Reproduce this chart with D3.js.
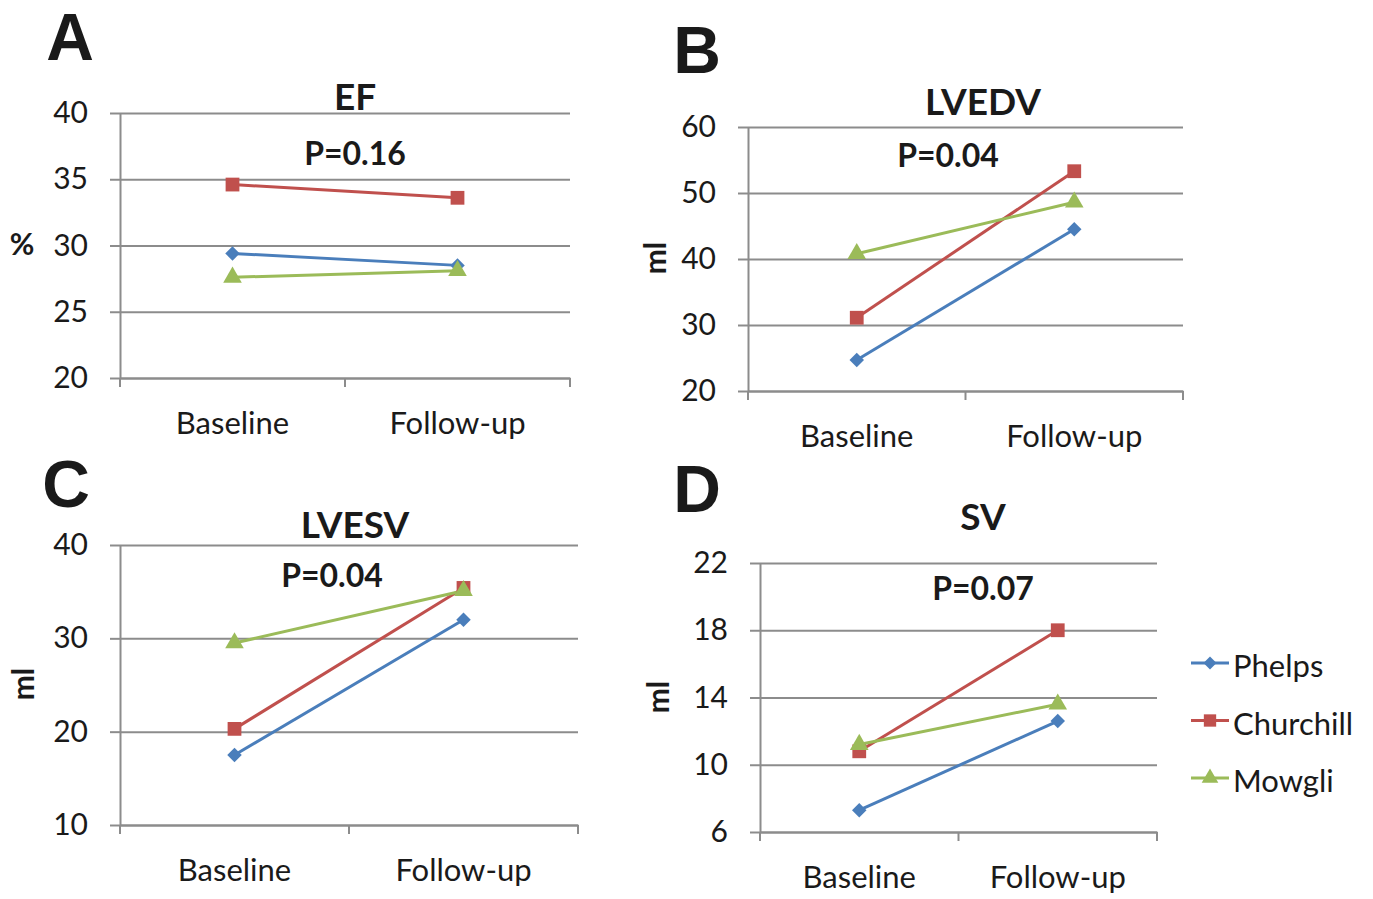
<!DOCTYPE html>
<html>
<head>
<meta charset="utf-8">
<script src="https://cdn.jsdelivr.net/npm/d3@7"></script>
<style>
  body { margin: 0; background: #fff; }
  text { font-family: Lato, "Open Sans", sans-serif; fill: #1a1a1a; }
</style>
</head>
<body>
<div class="chart"></div>
<script>
const categories = ["Baseline", "Follow-up"];
const subjects = ["Phelps", "Churchill", "Mowgli"];

// values per subject: [baseline, follow-up]
const efValues = [[29.4, 28.5], [34.6, 33.6], [27.6, 28.1]];
const lvedvValues = [[24.7, 44.5], [31.1, 53.3], [40.8, 48.6]];
const lvesvValues = [[17.5, 32.0], [20.3, 35.4], [29.5, 35.1]];
const svValues = [[7.3, 12.6], [10.8, 18.0], [11.2, 13.6]];

const efTicks = [20, 25, 30, 35, 40];
const lvedvTicks = [20, 30, 40, 50, 60];
const lvesvTicks = [10, 20, 30, 40];
const svTicks = [6, 10, 14, 18, 22];

const titles = ["EF", "LVEDV", "LVESV", "SV"];
const pLabels = ["P=0.16", "P=0.04", "P=0.04", "P=0.07"];
const letters = ["A", "B", "C", "D"];
const units = ["%", "ml", "ml", "ml"];

const colors = ["#4a7ebb", "#c0504d", "#9bbb59"];
const shapes = [d3.symbolSquare, d3.symbolSquare, d3.symbolTriangle];
const shapeSize = [105, 190, 150];
const shapeRot = [45, 0, 0];

let svg = d3.select(".chart").append("svg")
  .attr("width", 1373)
  .attr("height", 899);

// layout of each panel (pixel boxes)
const panels = [
  { values: efValues, ticks: efTicks, x0: 120, x1: 570, top: 113, bot: 378,
    title: [355, 110], p: [355, 165], letter: [70, 60], unit: [22, 255], rotate: false },
  { values: lvedvValues, ticks: lvedvTicks, x0: 748, x1: 1183, top: 127, bot: 391,
    title: [983, 115], p: [948, 167], letter: [697, 73], unit: [666, 258], rotate: true },
  { values: lvesvValues, ticks: lvesvTicks, x0: 120, x1: 578, top: 545, bot: 825,
    title: [355, 538], p: [332, 587], letter: [66, 507], unit: [34, 684], rotate: true },
  { values: svValues, ticks: svTicks, x0: 760, x1: 1157, top: 563, bot: 832,
    title: [983, 530], p: [983, 600], letter: [697, 512], unit: [669, 697], rotate: true }
];

panels.forEach((p, i) => {
  let g = svg.append("g");

  let x = d3.scaleBand().domain(categories).range([p.x0, p.x1]);
  let y = d3.scaleLinear().domain(d3.extent(p.ticks)).range([p.bot, p.top]);

  // gridlines
  g.append("g")
    .attr("transform", `translate(${p.x0},0)`)
    .call(d3.axisLeft(y).tickValues(p.ticks).tickSize(-(p.x1 - p.x0)).tickFormat(""))
    .call(a => a.select(".domain").remove())
    .call(a => a.selectAll("line").attr("stroke", "#8c8c8c").attr("stroke-width", 2));

  // y axis with outward ticks
  g.append("g")
    .attr("transform", `translate(${p.x0},0)`)
    .call(d3.axisLeft(y).tickValues(p.ticks).tickSize(10).tickSizeOuter(0).tickPadding(22))
    .call(a => a.select(".domain").attr("stroke", "#8c8c8c").attr("stroke-width", 2))
    .call(a => a.selectAll("line").attr("stroke", "#8c8c8c").attr("stroke-width", 2))
    .call(a => a.selectAll("text").style("font-size", "30px").attr("fill", "#1a1a1a"));

  // x axis
  g.append("g")
    .attr("transform", `translate(0,${p.bot})`)
    .call(d3.axisBottom(x).tickSize(0).tickPadding(34).tickSizeOuter(0))
    .call(a => a.select(".domain").attr("stroke", "#8c8c8c").attr("stroke-width", 2))
    .call(a => a.selectAll("text").style("font-size", "31px").attr("fill", "#1a1a1a"));

  let bounds = categories.map(c => x(c)).concat([p.x1]);
  g.selectAll(".xtick").data(bounds).join("line")
    .attr("x1", d => d).attr("x2", d => d)
    .attr("y1", p.bot).attr("y2", p.bot + 9)
    .attr("stroke", "#8c8c8c").attr("stroke-width", 2);

  let line = d3.line()
    .x((d, k) => x(categories[k]) + x.bandwidth() / 2)
    .y(d => y(d));

  p.values.forEach((vals, s) => {
    g.append("path")
      .attr("d", line(vals))
      .attr("fill", "none")
      .attr("stroke", colors[s])
      .attr("stroke-width", 3);
  });

  p.values.forEach((vals, s) => {
    g.selectAll(null).data(vals).join("path")
      .attr("d", d3.symbol().type(shapes[s]).size(shapeSize[s]))
      .attr("transform", (d, k) =>
        `translate(${x(categories[k]) + x.bandwidth() / 2},${y(d)}) rotate(${shapeRot[s]})`)
      .attr("fill", colors[s]);
  });

  g.append("text")
    .attr("x", p.title[0]).attr("y", p.title[1])
    .attr("text-anchor", "middle")
    .style("font-size", "37px").style("font-weight", 700)
    .text(titles[i]);

  g.append("text")
    .attr("x", p.p[0]).attr("y", p.p[1])
    .attr("text-anchor", "middle")
    .style("font-size", "32px").style("font-weight", 700)
    .text(pLabels[i]);

  g.append("text")
    .attr("x", p.letter[0]).attr("y", p.letter[1])
    .attr("text-anchor", "middle")
    .style("font-family", "'Liberation Sans', Arial, sans-serif")
    .style("font-size", "66px").style("font-weight", 700)
    .text(letters[i]);

  let u = g.append("text")
    .attr("text-anchor", "middle")
    .style("font-size", "30px").style("font-weight", 700)
    .text(units[i]);
  if (p.rotate) {
    u.attr("transform", `translate(${p.unit[0]},${p.unit[1]}) rotate(-90)`);
  } else {
    u.attr("x", p.unit[0]).attr("y", p.unit[1]);
  }
});

// legend
let legendY = d3.scalePoint().domain(subjects).range([663, 778]);
let legend = svg.append("g");
subjects.forEach((name, s) => {
  let ly = legendY(name);
  legend.append("line")
    .attr("x1", 1191).attr("x2", 1229)
    .attr("y1", ly).attr("y2", ly)
    .attr("stroke", colors[s]).attr("stroke-width", 3);
  legend.append("path")
    .attr("d", d3.symbol().type(shapes[s]).size(shapeSize[s] * 0.8))
    .attr("transform", `translate(1210,${ly}) rotate(${shapeRot[s]})`)
    .attr("fill", colors[s]);
  legend.append("text")
    .attr("x", 1233).attr("y", ly + 14)
    .style("font-size", "31px")
    .text(name);
});
</script>
</body>
</html>
